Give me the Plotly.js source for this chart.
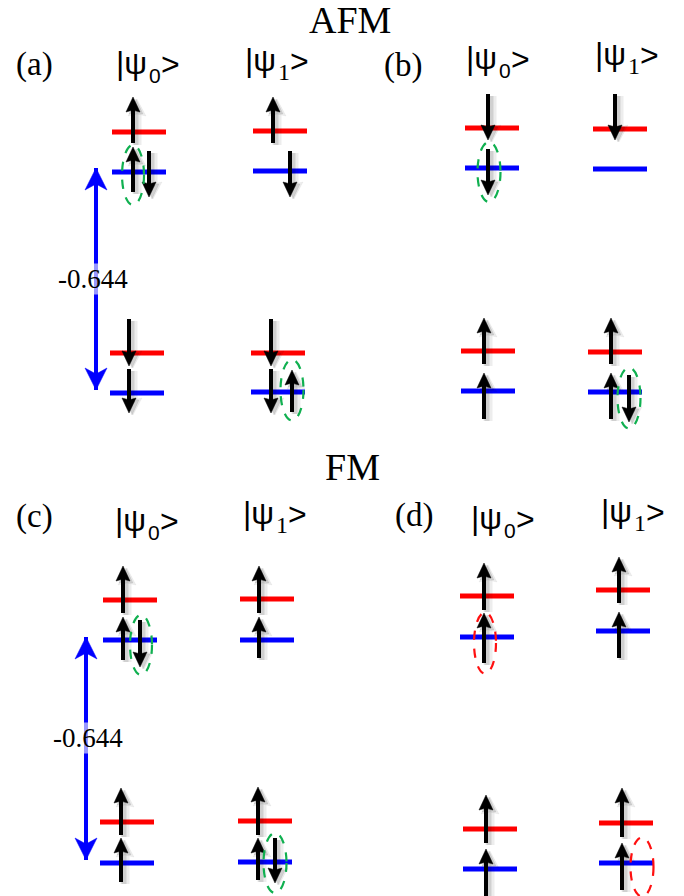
<!DOCTYPE html>
<html><head><meta charset="utf-8">
<script src="https://cdn.plot.ly/plotly-3.0.1.min.js"></script>
<style>html,body{margin:0;padding:0;background:#fff}</style>
</head><body><div id="chart" style="width:684px;height:896px"></div>
<script>
// ---- data (diagram frame: x 0..684 rightward, y 0..896 downward) ----
// level pairs: a-top ψ0, a-top ψ1, a-bot ψ0, a-bot ψ1, b..., c..., d...
const levelCenterX = [139, 280, 137, 278, 492, 620, 488, 615, 130, 267, 127, 265, 487, 623, 490, 626];
const redLevelY    = [132, 131, 353, 353, 128, 129, 351, 352, 600, 599, 822, 821, 596, 590, 829, 823];
const blueLevelY   = [172, 171, 393, 392, 168, 169, 391, 392, 640, 640, 863, 862, 637, 631, 869, 863];

// electron spins: x, tail y, tip y
const spinX    = [133, 133, 149, 273, 290, 129, 129, 271, 271, 292,
                  488, 488, 615, 484, 484, 611, 611, 629,
                  123, 123, 140, 259, 259, 121, 121, 258, 258, 275,
                  484, 484, 619, 619, 486, 486, 622, 622];
const spinTail = [143, 192, 151, 143, 151, 319, 369, 319, 369, 412,
                  94, 149, 94, 364, 419, 364, 419, 375,
                  613, 660, 620, 613, 658, 835, 882, 835, 880, 838,
                  610, 663, 603, 658, 843, 897, 837, 890];
const spinTip  = [97, 147, 197, 97, 197, 366, 413, 366, 413, 370,
                  140, 195, 140, 318, 373, 318, 373, 422,
                  566, 617, 667, 566, 617, 788, 838, 787, 838, 883,
                  563, 613, 557, 612, 795, 849, 788, 843];

// dashed rings around the flipped electrons
const ringX = [133, 292, 489, 629, 141, 275, 485, 642];
const ringY = [175, 390, 172, 398, 645, 863, 643, 867];
const ringW = [22, 23, 23, 23, 22, 23, 22, 23];
const ringH = [60, 61, 60, 61, 60, 60, 61, 59];
const ringKind = ['green','green','green','green','green','green','red','red'];

// energy gap arrows
const gapX = [96, 86];
const gapTop = [168, 637];
const gapBottom = [390, 860];
const gapValue = ['-0.644', '-0.644'];
const gapLabelX = [93, 88];
const gapLabelY = [279, 738];

// texts
const sectionTitles = ['AFM', 'FM'];
const sectionX = [350, 352];
const sectionY = [20, 467];
const panelLabels = ['(a)', '(b)', '(c)', '(d)'];
const panelX = [34, 403, 34, 414];
const panelY = [64, 65, 516, 515];
const stateIndex = ['0', '1', '0', '1', '0', '1', '0', '1'];
const stateLeftX = [116, 245, 466, 595, 115, 243, 471, 601];
const stateY = [63, 60, 58, 54, 520, 513, 518, 511];

// ---- styles ----
const HALF = 27;
const RED = '#ff0000', BLUE = '#0000ff';
const RING_COLORS = {green: '#10b050', red: '#ff1010'};
const HEAD = {half: 7, len: 15, notch: 2};
const BIGHEAD = {half: 11, len: 22, notch: 6};

function levelTrace(ys, color) {
  const x = [], y = [];
  levelCenterX.forEach((c, i) => { x.push(c - HALF, c + HALF, null); y.push(ys[i], ys[i], null); });
  return {type: 'scatter', mode: 'lines', x, y, line: {color, width: 5}, hoverinfo: 'skip'};
}

// build shaft + head geometry for arrows (dx, dy shift used for the soft shadow)
function arrowGeometry(xs, tails, tips, head, dx, dy) {
  const sx = [], sy = [], hx = [], hy = [];
  xs.forEach((x0, i) => {
    const x = x0 + dx, t = tips[i] + dy, s = tails[i] + dy;
    const d = Math.sign(t - s);
    sx.push(x, x, null); sy.push(s, t - d * (head.len - head.notch - 1), null);
    hx.push(x, x - head.half, x, x + head.half, x, null);
    hy.push(t, t - d * head.len, t - d * (head.len - head.notch), t - d * head.len, t, null);
  });
  return {sx, sy, hx, hy};
}
function arrowTraces(g, color, width) {
  return [
    {type: 'scatter', mode: 'lines', x: g.sx, y: g.sy, line: {color, width}, hoverinfo: 'skip'},
    {type: 'scatter', mode: 'lines', x: g.hx, y: g.hy, fill: 'toself', fillcolor: color,
     line: {color, width: 0.5}, hoverinfo: 'skip'}
  ];
}

const traces = [levelTrace(redLevelY, RED), levelTrace(blueLevelY, BLUE)];
// soft shadows
traces.push(...arrowTraces(arrowGeometry(spinX, spinTail, spinTip, {half: 9, len: 17, notch: 2}, 4, 2), 'rgba(0,0,0,0.07)', 9));
traces.push(...arrowTraces(arrowGeometry(spinX, spinTail, spinTip, HEAD, 3, 2), 'rgba(0,0,0,0.12)', 5));
// spins
traces.push(...arrowTraces(arrowGeometry(spinX, spinTail, spinTip, HEAD, 0, 0), '#000000', 4));
// double-headed gap arrows
traces.push(...arrowTraces(arrowGeometry(gapX.concat(gapX), gapTop.concat(gapBottom), gapBottom.concat(gapTop), BIGHEAD, 0, 0), BLUE, 4));

const annotations = [];
gapX.forEach((x, i) => {
  annotations.push({x: gapLabelX[i], y: gapLabelY[i], xref: 'x', yref: 'y', text: gapValue[i], showarrow: false,
    bgcolor: 'rgba(255,255,255,0.6)', borderpad: 0,
    font: {family: 'Liberation Serif', size: 27, color: '#000'}});
});
sectionTitles.forEach((t, i) => annotations.push({x: sectionX[i], y: sectionY[i], xref: 'x', yref: 'y', text: t,
  showarrow: false, font: {family: 'Liberation Serif', size: 38, color: '#000'}}));
panelLabels.forEach((t, i) => annotations.push({x: panelX[i], y: panelY[i], xref: 'x', yref: 'y', text: t,
  showarrow: false, font: {family: 'Liberation Serif', size: 33, color: '#000'}}));
// ket labels |ψn> : body, lowered index, closing bracket
stateIndex.forEach((n, i) => {
  const L = stateLeftX[i], y = stateY[i];
  annotations.push({x: L - 2, y: y, xref: 'x', yref: 'y', xanchor: 'left', text: '|ψ', showarrow: false,
    font: {family: 'Liberation Sans', size: 32, color: '#000'}});
  annotations.push({x: L + 31, y: y + 12, xref: 'x', yref: 'y', xanchor: 'left', text: n, showarrow: false,
    font: {family: n === '1' ? 'Liberation Serif' : 'Liberation Sans', size: n === '1' ? 24 : 21, color: '#000'}});
  annotations.push({x: L + 43, y: y + 1, xref: 'x', yref: 'y', xanchor: 'left', text: '&gt;', showarrow: false,
    font: {family: 'Liberation Sans', size: 32, color: '#000'}});
});

const shapes = ringX.map((cx, i) => ({type: 'circle', xref: 'x', yref: 'y',
  x0: cx - ringW[i] / 2, x1: cx + ringW[i] / 2, y0: ringY[i] - ringH[i] / 2, y1: ringY[i] + ringH[i] / 2,
  line: {color: RING_COLORS[ringKind[i]], width: 2.2, dash: 'dash'}, layer: 'above'}));

const layout = {
  width: 684, height: 896, margin: {l: 0, r: 0, t: 0, b: 0},
  paper_bgcolor: '#fff', plot_bgcolor: '#fff', showlegend: false,
  xaxis: {range: [0, 684], visible: false, fixedrange: true},
  yaxis: {range: [896, 0], visible: false, fixedrange: true},
  annotations, shapes
};
Plotly.newPlot('chart', traces, layout, {staticPlot: true, displayModeBar: false});
</script></body></html>
